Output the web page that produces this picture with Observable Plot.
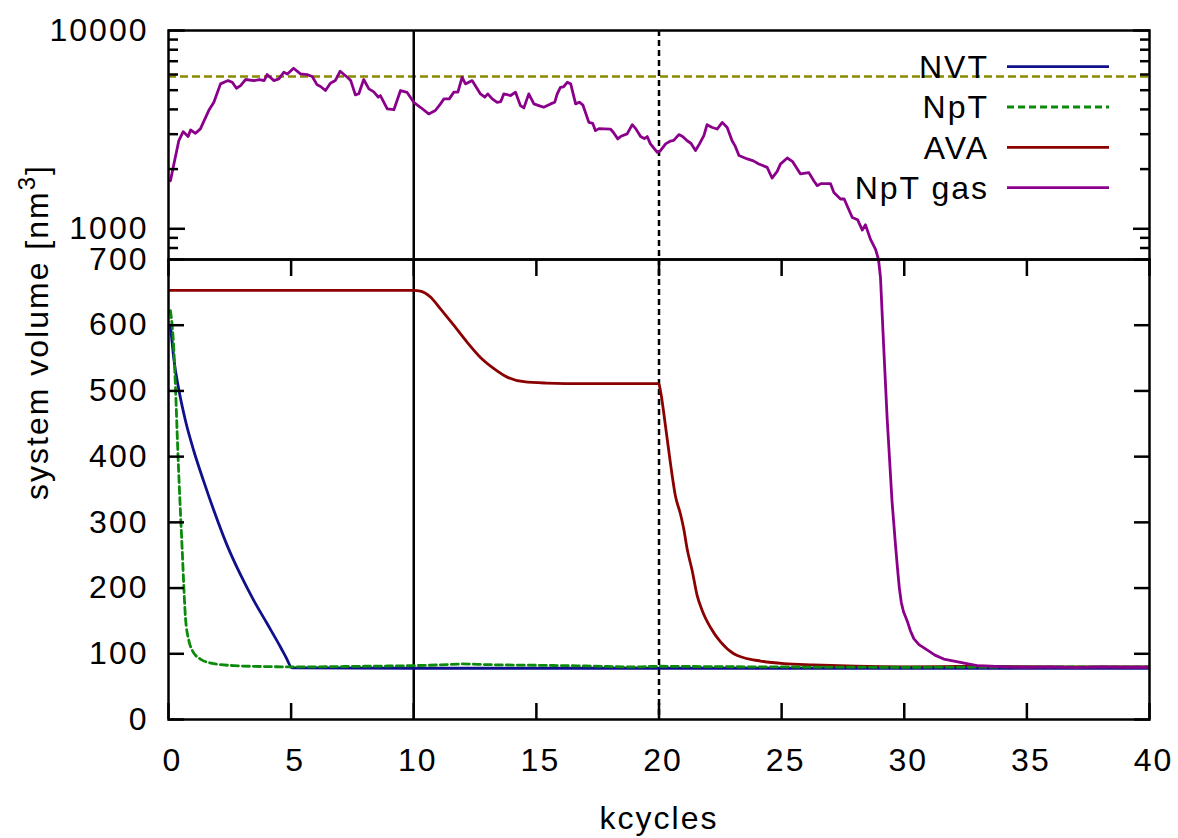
<!DOCTYPE html>
<html>
<head>
<meta charset="utf-8">
<script src="https://cdn.jsdelivr.net/npm/d3@7"></script>
<script src="https://cdn.jsdelivr.net/npm/@observablehq/plot@0.6"></script>
<style>
html, body { margin: 0; padding: 0; background: #fff; }
#chart { position: relative; width: 1178px; height: 838px; font-family: "Liberation Sans", Arial, sans-serif; color: #000; }
#chart svg { position: absolute; left: 0; top: 0; }
#ylabel { position: absolute; left: 37px; top: 332px; transform: translate(-50%, -50%) rotate(-90deg);
  font-size: 32px; letter-spacing: 2px; white-space: nowrap; line-height: 1; }
#ylabel sup { font-size: 0.75em; vertical-align: 0.55em; line-height: 0; }
</style>
</head>
<body>
<div id="chart"></div>
<script>
// ---------------- data ----------------
const xLabel = "kcycles";
const yLabelMain = "system volume [nm";
const yLabelSup = "3";
const yLabelEnd = "]";

const seriesNames = ["NVT", "NpT", "AVA", "NpT gas"];
const seriesColors = ["#10108c", "#0b8a0b", "#8b0000", "#8b008b"];
const seriesDash = [null, "7,4", null, null];

const nvtX = [0.08, 0.22, 0.42, 0.69, 1.03, 1.44, 1.85, 2.39, 2.94, 3.48, 4.02, 4.57, 4.8, 5.04, 10, 15, 20, 25, 30, 35, 40];
const nvtV = [600, 548, 502, 455, 409, 362, 318, 265, 220, 181, 146, 110, 94, 78.5, 78, 78, 78, 78, 78, 78, 78];

const nptX = [0.08, 0.22, 0.29, 0.38, 0.49, 0.56, 0.62, 0.69, 0.83, 0.97, 1.3, 1.85, 2.66, 4.0, 5, 8, 10, 11, 12, 13, 15, 17, 19, 20, 22, 25, 30, 35, 40];
const nptV = [622, 561, 500, 409, 313, 257, 206, 156, 120, 105, 92, 85, 82, 80.5, 80, 81, 82, 83, 84.5, 83.5, 82.5, 81.5, 80, 81, 80.5, 80, 79.5, 80, 80];

const avaX = [0, 5, 10.0, 10.27, 10.68, 11.09, 11.63, 12.18, 12.72, 13.27, 13.81, 14.49, 15.4, 17, 19.99, 20.06, 20.27, 20.47, 20.67, 20.88, 21.01, 21.15, 21.35, 21.56, 21.76, 22.1, 22.51, 23.05, 23.46, 24.14, 25.09, 26.3, 28, 30, 33, 36, 40];
const avaV = [653, 653, 653, 652, 643, 625, 600, 574, 551, 534, 521, 514, 512, 511, 511, 500, 445, 389, 340, 312, 290, 259, 227, 188, 166, 140, 118, 100, 94, 89, 85, 83, 81, 80, 81, 80, 80];

const gasX = [0.08, 0.22, 0.42, 0.6, 0.8, 0.9, 1.1, 1.3, 1.64, 1.85, 2.12, 2.43, 2.6, 2.77, 2.94, 3.14, 3.48, 3.7, 3.9, 4.02,
  4.3, 4.5, 4.7, 4.85, 5.1, 5.38, 5.65, 5.86, 6.06, 6.2, 6.4, 6.6, 6.8, 7.0, 7.29, 7.43, 7.62, 7.76, 7.96, 8.17,
  8.37, 8.55, 8.64, 8.92, 9.19, 9.46, 9.73, 10.0, 10.27, 10.61, 10.88, 11.09, 11.23, 11.45, 11.63, 11.8, 11.97, 12.11, 12.38, 12.72,
  12.9, 13.02, 13.2, 13.4, 13.55, 13.67, 13.95, 14.15, 14.35, 14.49, 14.69, 14.9, 15.1, 15.3, 15.58, 15.75, 15.85, 15.98, 16.1, 16.26,
  16.4, 16.6, 16.75, 16.9, 17.14, 17.3, 17.41, 17.55, 18.02, 18.15, 18.32, 18.45, 18.7, 18.91, 19.05, 19.25, 19.4, 19.52, 19.65, 19.93,
  20.05, 20.27, 20.47, 20.6, 20.81, 20.95, 21.15, 21.3, 21.49, 21.65, 21.83, 21.96, 22.15, 22.37, 22.58, 22.78, 22.98, 23.1, 23.26, 23.6,
  23.85, 24.07, 24.41, 24.61, 24.82, 24.95, 25.23, 25.45, 25.77, 26.11, 26.31, 26.45, 26.6, 26.99, 27.13, 27.4, 27.55, 27.88, 28.1, 28.29,
  28.42, 28.62, 28.83, 28.95, 29.03, 29.17, 29.3, 29.5, 29.64, 29.72, 29.8, 29.88, 29.97, 30.12, 30.25, 30.39, 30.6, 30.93, 31.25, 31.61,
  32.29, 32.97, 33.92, 35, 36, 37, 38, 39, 40];
const gasV = [1746, 2122, 2782, 3090, 2917, 3150, 3030, 3190, 3945, 4345, 5380, 5590, 5480, 5115, 5275, 5660, 5590, 5660, 5590, 5995,
  5590, 5700, 6160, 6030, 6450, 6040, 5990, 5860, 5320, 5220, 4980, 5420, 5590, 6230, 5810, 5590, 4735, 4800, 5660, 5075,
  4900, 4610, 4700, 4020, 3985, 4980, 4870, 4345, 4100, 3795, 3950, 4265, 4520, 4520, 4885, 4885, 5810, 5380, 5590, 4790,
  4610, 4790, 4520, 4345, 4380, 4790, 4700, 4885, 4180, 4070, 4790, 4265, 4180, 4100, 4265, 4350, 4790, 5170, 5190, 5480,
  5380, 4265, 4350, 4200, 3440, 3400, 3126, 3200, 3185, 3050, 2840, 2930, 3010, 3350, 3200, 2917, 2850, 2917, 2680, 2430,
  2470, 2680, 2770, 2790, 2985, 2930, 2780, 2700, 2480, 2680, 2950, 3350, 3250, 3185, 3440, 3240, 2780, 2620, 2340, 2250,
  2200, 2122, 2040, 1803, 1947, 2120, 2275, 2180, 1890, 1920, 1746, 1650, 1690, 1690, 1525, 1413, 1413, 1140, 1110, 985,
  1047, 887, 788, 700, 673, 561, 460, 333, 267, 232, 200, 178, 164, 150, 135, 123, 114, 106, 98, 92,
  87, 82, 80.5, 79.5, 80, 79, 80, 79.5, 79.5];

const targetVolume = 5860;          // olive dashed reference line (top panel)
const solidMarkX = [10];            // solid vertical separator
const dashedMarkX = [20];           // dashed vertical separator

const xTicks = [0, 5, 10, 15, 20, 25, 30, 35, 40];
const bottomYTicks = [0, 100, 200, 300, 400, 500, 600, 700];
const bottomYLabels = [0, 100, 200, 300, 400, 500, 600, 700];
const topYLabels = [1000, 10000];
const topMajorTicks = [1000, 10000];
const topMinorTicks = [800, 900, 2000, 3000, 4000, 5000, 6000, 7000, 8000, 9000];

// ---------------- build ----------------
const zip = (xs, vs, s) => xs.map((x, i) => ({x, v: vs[i], s}));
const series = [
  zip(nvtX, nvtV, 0), zip(nptX, nptV, 1), zip(avaX, avaV, 2), zip(gasX, gasV, 3)
];

const W = 1178;
const baseStyle = {
  fontFamily: '"Liberation Sans", Arial, sans-serif',
  fontSize: "32px",
  letterSpacing: "2px",
  background: "transparent",
  color: "#000",
  overflow: "visible"
};
const LW = 2.5;   // frame / ticks
const CW = 2.8;   // curves
const margins = {marginLeft: 168, marginRight: 29};

function seriesMarks(indices) {
  return indices.map(i => Plot.line(series[i], {
    x: "x", y: "v", stroke: seriesColors[i], strokeWidth: CW,
    strokeDasharray: seriesDash[i] || undefined,
    curve: i === 3 ? "linear" : "monotone-x", clip: true
  }));
}

const bottom = Plot.plot({
  width: W, height: 838, marginTop: 259, marginBottom: 119, ...margins,
  style: baseStyle,
  x: {domain: [0, 40]},
  y: {domain: [0, 700]},
  marks: [
    Plot.ruleX(solidMarkX, {stroke: "#000", strokeWidth: LW}),
    Plot.ruleX(dashedMarkX, {stroke: "#000", strokeWidth: LW, strokeDasharray: "6,4"}),
    ...seriesMarks([2, 0, 1, 3]),
    Plot.axisX(xTicks, {anchor: "bottom", tickSize: 0, tickPadding: 29, dx: 4, label: null}),
    Plot.axisX(xTicks, {anchor: "bottom", tickSize: -16, strokeWidth: LW, tickFormat: () => "", label: null}),
    Plot.axisX(xTicks, {anchor: "top", tickSize: -16, strokeWidth: LW, tickFormat: () => "", label: null}),
    Plot.axisY(bottomYLabels, {anchor: "left", tickSize: 0, tickPadding: 20, label: null}),
    Plot.axisY(bottomYTicks, {anchor: "left", tickSize: -16, strokeWidth: LW, tickFormat: () => "", label: null}),
    Plot.axisY(bottomYTicks, {anchor: "right", tickSize: -16, strokeWidth: LW, tickFormat: () => "", label: null}),
    Plot.text([xLabel], {frameAnchor: "bottom", dy: 99, lineAnchor: "middle", text: d => d, fontSize: 32}),
    Plot.frame({stroke: "#000", strokeWidth: LW})
  ]
});

const topPlot = Plot.plot({
  width: W, height: 262, marginTop: 30, marginBottom: 3, ...margins,
  style: baseStyle,
  x: {domain: [0, 40], axis: null},
  y: {type: "log", domain: [700, 10000]},
  marks: [
    Plot.ruleY([targetVolume], {stroke: "#8a8a00", strokeWidth: LW, strokeDasharray: "8,4"}),
    Plot.ruleX(solidMarkX, {stroke: "#000", strokeWidth: LW}),
    Plot.ruleX(dashedMarkX, {stroke: "#000", strokeWidth: LW, strokeDasharray: "6,4"}),
    ...seriesMarks([3]),
    Plot.axisY(topYLabels, {anchor: "left", tickSize: 0, tickPadding: 20, tickFormat: d => String(d), label: null}),
    Plot.axisY(topMajorTicks, {anchor: "left", tickSize: -17, strokeWidth: LW, tickFormat: () => "", label: null}),
    Plot.axisY(topMinorTicks, {anchor: "left", tickSize: -10, strokeWidth: LW, tickFormat: () => "", label: null}),
    Plot.axisY(topMajorTicks, {anchor: "right", tickSize: -17, strokeWidth: LW, tickFormat: () => "", label: null}),
    Plot.axisY(topMinorTicks, {anchor: "right", tickSize: -10, strokeWidth: LW, tickFormat: () => "", label: null}),
    Plot.frame({stroke: "#000", strokeWidth: LW})
  ]
});

const chart = document.getElementById("chart");
chart.appendChild(bottom);
chart.appendChild(topPlot);

// legend (top-right, inside top panel)
const legend = d3.create("svg").attr("width", W).attr("height", 262)
  .style("position", "absolute").style("left", 0).style("top", 0)
  .style("font-family", '"Liberation Sans", Arial, sans-serif').style("font-size", "32px")
  .style("letter-spacing", "2px").style("pointer-events", "none");
const rowY0 = 66.7, rowStep = 40.3;
seriesNames.forEach((name, i) => {
  const y = rowY0 + i * rowStep;
  legend.append("text").attr("x", 989).attr("y", y).attr("dy", "0.35em")
    .attr("text-anchor", "end").attr("fill", "#000").text(name);
  legend.append("line").attr("x1", 1007).attr("x2", 1109).attr("y1", y).attr("y2", y)
    .attr("stroke", seriesColors[i]).attr("stroke-width", CW)
    .attr("stroke-dasharray", seriesDash[i]);
});
chart.appendChild(legend.node());

// y-axis title spanning both panels
const yl = document.createElement("div");
yl.id = "ylabel";
yl.append(yLabelMain);
const sup = document.createElement("sup");
sup.textContent = yLabelSup;
yl.append(sup);
yl.append(yLabelEnd);
chart.appendChild(yl);
</script>
</body>
</html>
